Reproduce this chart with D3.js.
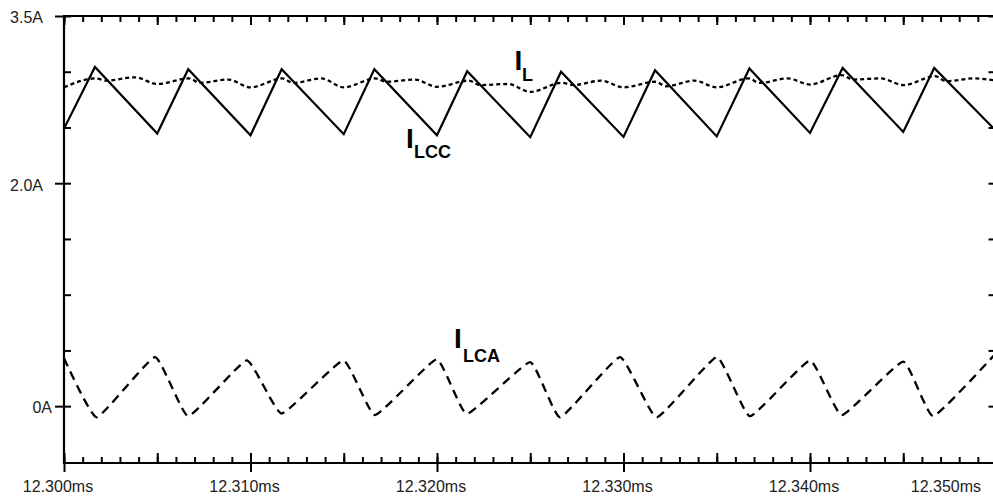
<!DOCTYPE html>
<html>
<head>
<meta charset="utf-8">
<script src="https://cdn.jsdelivr.net/npm/d3@7/dist/d3.min.js"></script>
<style>
  html, body { margin: 0; padding: 0; background: #fff; }
  svg { display: block; }
  text { font-family: "Liberation Sans", Arial, Helvetica, sans-serif; }
</style>
</head>
<body>
<svg id="chart" width="993" height="497"></svg>
<script>
// ---------------- data (time offsets in microseconds from 12.300 ms, values in A) ----------------
const tStartMs = 12.300;
const tEndMs = 12.350;

const xTickValues = [12.300, 12.310, 12.320, 12.330, 12.340, 12.350];
const xTickLabels = ["12.300ms", "12.310ms", "12.320ms", "12.330ms", "12.340ms", "12.350ms"];
const yTickValues = [3.5, 2.0, 0];
const yTickLabels = ["3.5A", "2.0A", "0A"];

// I_LCC : solid triangular wave
const iLccTimeUs = [0, 1.66, 5.00, 6.66, 10.00, 11.67, 15.00, 16.64, 20.00, 21.62, 25.00, 26.65,
                    30.00, 31.69, 35.00, 36.75, 40.00, 41.75, 45.00, 46.66, 50.00];
const iLccValue  = [2.49, 3.043, 2.445, 3.022, 2.43, 3.022, 2.44, 3.022, 2.43, 3.004, 2.413, 3.00,
                    2.415, 3.013, 2.42, 3.029, 2.451, 3.034, 2.46, 3.034, 2.466];

// I_L : dotted, nearly flat
const iLTimeUs = [0, 1.7, 2.3, 3.8,
                  5, 6.7, 7.3, 8.8,
                  10, 11.7, 12.3, 13.8,
                  15, 16.7, 17.3, 18.8,
                  20, 21.7, 22.3, 23.8,
                  25, 26.7, 27.3, 28.8,
                  30, 31.7, 32.3, 33.8,
                  35, 36.7, 37.3, 38.8,
                  40, 41.7, 42.3, 43.8,
                  45, 46.7, 47.3, 48.8, 50];
const iLValue  = [2.86, 2.94, 2.92, 2.95,
                  2.89, 2.94, 2.90, 2.93,
                  2.86, 2.94, 2.90, 2.94,
                  2.86, 2.94, 2.91, 2.93,
                  2.865, 2.92, 2.88, 2.89,
                  2.82, 2.90, 2.88, 2.92,
                  2.86, 2.91, 2.87, 2.92,
                  2.86, 2.94, 2.90, 2.94,
                  2.885, 2.97, 2.93, 2.94,
                  2.88, 2.96, 2.915, 2.94, 2.92];

// I_LCA : dashed wave near zero
const iLcaTimeUs = [0, 1.75, 4.88, 6.66, 9.80, 11.67, 14.98, 16.68, 19.98, 21.60, 24.99, 26.60,
                    29.81, 31.78, 35.00, 36.78, 40.00, 41.70, 45.00, 46.61, 50.00];
const iLcaValue  = [0.43, -0.10, 0.44, -0.09, 0.41, -0.066, 0.41, -0.08, 0.42, -0.07, 0.395, -0.10,
                    0.44, -0.10, 0.44, -0.09, 0.41, -0.08, 0.40, -0.09, 0.48];

// ---------------- layout ----------------
const svg = d3.select("#chart");
const pL = 64, pR = 996.5, pT = 16, pB = 463;

const x = d3.scaleLinear().domain([tStartMs, tEndMs]).range([pL, pR]);
const y = d3.scaleLinear().domain([-0.51, 3.5]).range([pB, pT]);
const toMs = us => tStartMs + us / 1000;

svg.append("rect").attr("width", 993).attr("height", 497).attr("fill", "#fff");

// clip
svg.append("clipPath").attr("id", "plotclip")
  .append("rect").attr("x", pL).attr("y", pT).attr("width", pR - pL).attr("height", pB - pT);

// ---------------- axes ----------------
const minorX = d3.range(0, 51).map(i => tStartMs + i * 0.001);
const medX = d3.range(0, 11).map(i => tStartMs + i * 0.005);
const minorY = d3.range(0, 8).map(i => i * 0.5);

function styleAxis(g) {
  g.select(".domain").remove();
  g.selectAll(".tick line").attr("stroke", "#000").attr("stroke-width", 2);
  g.selectAll(".tick text").remove();
}

// bottom: minor up, medium up longer, majors crossing
svg.append("g").attr("transform", `translate(0,${pB})`)
  .call(d3.axisTop(x).tickValues(minorX).tickSize(6).tickFormat("")).call(styleAxis);
svg.append("g").attr("transform", `translate(0,${pB})`)
  .call(d3.axisTop(x).tickValues(medX).tickSize(10).tickFormat("")).call(styleAxis);
svg.append("g").attr("transform", `translate(0,${pB})`)
  .call(d3.axisBottom(x).tickValues(xTickValues).tickSize(9).tickFormat("")).call(styleAxis);

// top: ticks pointing down
svg.append("g").attr("transform", `translate(0,${pT})`)
  .call(d3.axisBottom(x).tickValues(minorX).tickSize(6).tickFormat("")).call(styleAxis);
svg.append("g").attr("transform", `translate(0,${pT})`)
  .call(d3.axisBottom(x).tickValues(medX).tickSize(9).tickFormat("")).call(styleAxis);

// left: minor to the right, majors crossing
svg.append("g").attr("transform", `translate(${pL},0)`)
  .call(d3.axisRight(y).tickValues(minorY).tickSize(7).tickFormat("")).call(styleAxis);
svg.append("g").attr("transform", `translate(${pL},0)`)
  .call(d3.axisLeft(y).tickValues(yTickValues).tickSize(9).tickFormat("")).call(styleAxis);

// right: ticks pointing left
svg.append("g").attr("transform", `translate(${pR},0)`)
  .call(d3.axisLeft(y).tickValues(minorY).tickSize(8).tickFormat("")).call(styleAxis);

// frame lines
const frame = svg.append("g").attr("stroke", "#000").attr("stroke-width", 2.2).attr("fill", "none");
frame.append("line").attr("x1", pL).attr("x2", pR + 2).attr("y1", pT).attr("y2", pT);
frame.append("line").attr("x1", pL).attr("x2", pR + 2).attr("y1", pB).attr("y2", pB);
frame.append("line").attr("x1", pL).attr("x2", pL).attr("y1", pT - 1).attr("y2", pB + 1);
frame.append("line").attr("x1", pR).attr("x2", pR).attr("y1", pT - 1).attr("y2", pB + 1);

// tick labels
svg.append("g").selectAll("text").data(xTickValues).join("text")
  .attr("x", (d, i) => i === xTickValues.length - 1 ? 981 : x(d) - 6)
  .attr("y", 491.5)
  .attr("text-anchor", (d, i) => i === xTickValues.length - 1 ? "end" : "middle")
  .attr("font-size", 16)
  .attr("fill", "#222")
  .text((d, i) => xTickLabels[i]);

svg.append("g").selectAll("text").data(yTickValues).join("text")
  .attr("x", (d, i) => yTickLabels[i].length > 2 ? 43 : 52)
  .attr("y", d => y(d) + 7.3)
  .attr("text-anchor", "end")
  .attr("font-size", 16)
  .attr("fill", "#222")
  .text((d, i) => yTickLabels[i]);

// ---------------- traces ----------------
const plot = svg.append("g").attr("clip-path", "url(#plotclip)");

const lineLinear = d3.line().x(d => x(toMs(d[0]))).y(d => y(d[1])).curve(d3.curveLinear);
const lineSmooth = d3.line().x(d => x(toMs(d[0]))).y(d => y(d[1])).curve(d3.curveMonotoneX);
const lineRounded = d3.line().x(d => x(toMs(d[0]))).y(d => y(d[1])).curve(d3.curveCardinal.tension(0.62));

plot.append("path")
  .attr("d", lineSmooth(iLTimeUs.map((t, i) => [t, iLValue[i]])))
  .attr("fill", "none").attr("stroke", "#000").attr("stroke-width", 2.3)
  .attr("stroke-dasharray", "4,3");

plot.append("path")
  .attr("d", lineLinear(iLccTimeUs.map((t, i) => [t, iLccValue[i]])))
  .attr("fill", "none").attr("stroke", "#000").attr("stroke-width", 2.2)
  .attr("stroke-linejoin", "miter");

plot.append("path")
  .attr("d", lineRounded(iLcaTimeUs.map((t, i) => [t, iLcaValue[i]])))
  .attr("fill", "none").attr("stroke", "#000").attr("stroke-width", 2.3)
  .attr("stroke-dasharray", "9,6");

// ---------------- trace labels ----------------
function currentLabel(xI, yI, sub, xSub, ySub) {
  const g = svg.append("g").attr("fill", "#000").attr("font-weight", "bold");
  g.append("text").attr("x", xI).attr("y", yI).attr("font-size", 28).text("I");
  g.append("text").attr("x", xSub).attr("y", ySub).attr("font-size", 18).text(sub);
}
currentLabel(514.5, 70, "L", 522, 80.5);
currentLabel(406, 148, "LCC", 414, 157.5);
currentLabel(454, 348, "LCA", 463, 361.5);
</script>
</body>
</html>
